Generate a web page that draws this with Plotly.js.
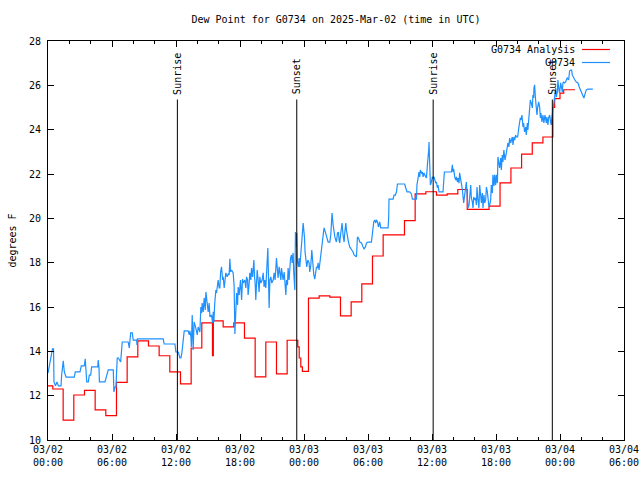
<!DOCTYPE html>
<html>
<head>
<meta charset="utf-8">
<script src="https://cdn.plot.ly/plotly-3.0.1.min.js"></script>
<style>html,body{margin:0;padding:0;background:#fff;}#chart{width:640px;height:480px;}</style>
</head>
<body>
<div id="chart"></div>
<script>
// ---- Data (hours after 2025-03-02 00:00 UTC) ----
const startDate = '2025-03-02';

const analysisHours = [0, 0.45, 1.42, 2.42, 3.42, 4.42, 5.42, 6.42, 7.42, 8.42, 9.42, 10.42, 11.42, 12.42, 13.42, 14.42, 15.42, 15.5, 16.42, 17.42, 18.42, 19.42, 20.42, 21.42, 22.42, 23.42, 23.55, 23.7, 23.85, 24.42, 25.42, 26.42, 27.42, 28.42, 29.42, 30.42, 31.42, 32.42, 33.42, 34.42, 35.42, 36.42, 37.42, 38.42, 39.3, 40.42, 41.35, 42.38, 43.4, 44.4, 45.4, 46.4, 47.33, 47.5, 48.0, 48.35, 49.4];
const analysisValues = [12.44, 12.3, 10.9, 12.03, 12.24, 11.36, 11.1, 12.6, 13.75, 14.47, 14.24, 13.8, 13.07, 12.53, 14.15, 15.28, 13.8, 15.37, 15.1, 15.28, 14.6, 12.85, 14.42, 12.98, 14.5, 14.2, 13.7, 13.3, 13.1, 16.4, 16.5, 16.45, 15.6, 16.23, 17.04, 18.3, 19.25, 19.25, 19.9, 21.1, 21.2, 21.05, 21.1, 21.3, 20.4, 20.4, 20.55, 21.6, 22.27, 22.9, 23.4, 23.67, 25.0, 25.4, 25.65, 25.8, 25.8];

const obsHours = [
 0, 0.05, 0.19, 0.35, 0.42, 0.52, 0.56, 0.70, 0.84, 0.98, 1.22, 1.28, 1.38, 1.43, 1.53, 1.69, 2.46, 2.56, 3.00, 3.12,
 3.40, 3.49, 3.56, 3.63, 3.78, 3.87, 4.00, 4.09, 4.66, 4.71, 4.78, 4.82, 5.34, 5.50, 5.65, 6.12, 6.18, 6.28, 6.37, 6.49,
 6.60, 6.81, 6.96, 7.52, 7.62, 7.75, 7.90, 7.99, 8.31, 8.34, 8.38, 10.80, 10.89, 11.90, 11.99, 12.21, 12.30, 12.37, 12.46, 12.55,
 12.67, 12.77, 13.14,
 13.24, 13.30, 13.40, 13.44, 13.52, 13.61, 13.70, 13.86, 13.99, 14.08, 14.24, 14.33, 14.40, 14.45, 14.55, 14.64, 14.74, 14.80, 14.92, 15.02,
 15.11, 15.18, 15.33, 15.43, 15.49, 15.55, 15.64, 15.74, 15.80, 15.86, 15.95, 16.05, 16.11, 16.18, 16.27, 16.37, 16.42, 16.52, 16.58, 16.67,
 16.80, 16.89, 16.98, 17.05, 17.11, 17.21, 17.36, 17.45, 17.52, 17.58, 17.68, 17.77, 17.83, 17.92, 18.05, 18.15, 18.24, 18.30, 18.45, 18.55,
 18.61, 18.71, 18.76, 18.86, 18.92, 19.02, 19.08, 19.18, 19.23, 19.30, 19.36, 19.42, 19.48, 19.55, 19.61, 19.70, 19.79, 19.86, 19.95, 20.08,
 20.17, 20.26, 20.33, 20.42, 20.49, 20.54, 20.61, 20.67, 20.73, 20.80, 20.89, 20.98, 21.11, 21.20, 21.29, 21.42, 21.48, 21.57, 21.67, 21.73,
 21.83, 21.89, 22.04, 22.14, 22.20, 22.30, 22.36, 22.45, 22.51, 22.60, 22.74, 22.83, 22.89, 22.98, 23.04, 23.14, 23.20, 23.26, 23.33, 23.39,
 23.48, 23.54, 23.61, 23.70, 23.77, 23.86, 23.92, 23.98, 24.05, 24.10, 24.20, 24.26, 24.36, 24.48, 24.54, 24.64, 24.73, 24.80, 24.85, 24.92,
 25.01, 25.08, 25.17, 25.26, 25.32, 25.41,
 25.55, 25.64, 25.73, 25.79, 25.88, 25.95, 26.04, 26.16, 26.26, 26.42, 26.51, 26.58, 26.63, 26.73, 26.79, 26.89, 26.98, 27.04, 27.14, 27.23,
 27.29, 27.35, 27.45, 27.51, 27.57, 27.66, 27.76, 27.82, 27.92, 27.98, 28.07, 28.17, 28.29, 28.38, 28.48, 28.60, 28.69, 28.82, 28.92, 29.01,
 29.11, 29.23, 29.39, 29.54, 29.63, 29.76, 29.86, 30.00, 30.32, 30.42, 30.47, 30.54, 30.63, 30.73, 30.79, 30.89, 30.98, 31.10, 31.19, 31.88,
 31.94, 31.97, 32.35, 32.44, 32.57, 32.67, 32.76, 33.44, 33.54, 33.66, 33.91, 34.07, 34.16, 34.54, 34.59, 34.69, 34.78, 34.85, 34.91, 35.01,
 35.10, 35.16, 35.25, 35.32, 35.41, 35.48, 35.57, 35.62, 35.69, 35.72, 35.78, 35.85, 35.94, 36.04, 36.09, 36.19, 36.25, 36.35, 36.41, 36.51,
 36.56, 36.66, 37.03, 37.10, 37.16, 37.82, 37.91, 37.97, 38.03, 38.13, 38.22, 38.29, 38.38, 38.44, 38.53, 38.59, 38.69, 38.75, 38.85, 38.90,
 38.97, 39.06, 39.16, 39.22, 39.28, 39.37, 39.47, 39.53, 39.63, 39.69, 39.78, 39.84, 39.91, 40.00, 40.09, 40.16, 40.22, 40.31, 40.40, 40.47,
 40.56, 40.63, 40.72, 40.78, 40.87, 40.94, 41.03, 41.10, 41.19, 41.25, 41.34,
 41.41, 41.50, 41.56, 41.66, 41.71, 41.81, 41.87, 41.97, 42.03, 42.13, 42.18, 42.25, 42.34, 42.44, 42.50, 42.59, 42.65, 42.74, 42.84, 42.97,
 43.06, 43.12, 43.21, 43.28, 43.37, 43.44, 43.53, 43.59, 43.68, 43.75, 43.84, 43.91, 44.03, 44.15, 44.22, 44.28, 44.34, 44.43, 44.53, 44.59,
 44.68, 44.78, 44.84, 44.94, 44.99, 45.09, 45.15, 45.22, 45.31, 45.41, 45.46, 45.53, 45.56, 45.62, 45.69, 45.78, 45.84, 45.90, 46.00, 46.09,
 46.16, 46.21, 46.31, 46.40, 46.49, 46.59, 46.72, 46.77, 46.87, 46.93, 47.03, 47.12, 47.18, 47.24, 47.34, 47.43, 47.52, 47.59, 47.65, 47.75,
 47.80, 47.90, 47.96, 48.06, 48.12, 48.22, 48.27, 48.34, 48.43, 48.53, 48.59, 48.68, 48.81, 48.90, 48.99, 49.09, 49.15, 49.27, 49.40, 49.53,
 49.68, 49.84, 50.00, 50.15, 50.24, 50.37, 50.46, 50.61, 51.08
];
const obsValues = [
 13.02, 13.16, 13.52, 13.97, 14.11, 14.11, 12.62, 12.44, 12.62, 12.44, 12.44, 12.93, 13.30, 13.57, 13.07, 12.84, 12.84, 13.07, 13.07, 13.34,
 13.34, 13.66, 13.16, 12.62, 12.62, 12.93, 12.93, 13.30, 13.30, 13.61, 13.25, 12.62, 12.62, 12.89, 13.16, 13.16, 12.17, 12.39, 12.39, 13.70,
 13.70, 13.52, 14.42, 14.42, 14.15, 14.83, 14.83, 14.51, 14.51, 14.29, 14.56, 14.56, 14.33, 14.33, 13.97, 13.97, 13.84, 13.70, 13.70, 13.93,
 14.47, 14.92, 14.92,
 14.74, 14.92, 14.65, 14.20, 15.64, 14.06, 15.33, 15.05, 14.74, 15.10, 14.87, 16.00, 15.73, 16.18, 15.78, 16.41, 15.87, 16.68, 16.09, 15.78,
 16.18, 15.55, 15.64, 15.28, 15.78, 15.33, 16.23, 16.77, 16.63, 16.90, 17.22, 16.86, 16.86, 17.58, 17.81, 17.22, 17.36, 16.86, 17.31, 17.54,
 17.36, 17.49, 17.45, 18.17, 17.58, 17.67, 17.54, 16.95, 14.78, 15.87, 16.63, 16.09, 16.90, 16.54, 17.22, 16.32, 17.26, 17.08, 17.22, 16.86,
 17.36, 17.22, 16.54, 17.08, 17.54, 17.22, 17.76, 17.36, 17.76, 18.12, 17.36, 17.08, 16.32, 17.36, 17.67, 17.22, 16.68, 17.36, 17.08, 17.22,
 17.54, 16.90, 17.22, 16.86, 17.36, 18.12, 18.66, 17.36, 15.96, 17.22, 17.36, 17.08, 17.22, 17.54, 17.22, 18.21, 17.67, 17.31, 17.81, 17.58,
 17.22, 17.76, 17.22, 17.58, 17.08, 16.54, 17.22, 16.99, 17.76, 17.22, 18.21, 18.35, 17.99, 18.44, 17.54, 16.77, 19.38, 18.71, 19.34, 18.03,
 17.81, 18.21, 17.81, 18.35, 19.02, 19.47, 19.79, 19.47, 19.11, 18.48, 18.12, 17.81, 18.12, 17.99, 17.58, 17.90, 18.57, 18.12, 17.90, 17.45,
 17.26, 17.58, 17.81, 17.76, 17.99, 17.67,
 18.21, 18.44, 18.89, 19.25, 19.57, 19.47, 19.25, 19.11, 18.93, 18.93, 19.25, 19.79, 20.24, 19.70, 19.38, 19.16, 19.02, 18.93, 19.34, 19.38,
 19.02, 18.89, 19.34, 19.70, 19.79, 19.25, 18.93, 19.34, 19.79, 19.47, 19.16, 18.93, 18.71, 18.66, 18.57, 18.48, 18.35, 18.30, 18.26, 19.16,
 19.11, 18.93, 18.89, 18.71, 18.62, 18.71, 18.89, 18.93, 18.93, 19.34, 19.70, 19.84, 19.93, 19.79, 19.93, 19.84, 19.61, 19.84, 19.57, 19.57,
 20.02, 20.87, 20.87, 21.05, 21.05, 21.19, 21.55, 21.55, 21.37, 21.19, 21.19, 21.10, 20.87, 20.87, 21.50, 21.87, 22.09, 21.87, 22.18, 22.05,
 22.09, 21.87, 22.05, 21.96, 21.87, 21.82, 22.41, 22.63, 23.08, 23.44, 22.50, 21.50, 21.64, 21.87, 21.82, 21.87, 21.73, 21.59, 21.64, 21.37,
 21.50, 21.19, 21.19, 21.64, 22.09, 22.09, 22.41, 22.09, 22.23, 21.87, 21.73, 21.87, 21.64, 21.82, 21.59, 22.05, 21.64, 21.59, 21.28, 20.96,
 20.69, 21.05, 21.37, 21.64, 21.19, 20.47, 20.60, 21.14, 21.50, 20.92, 20.74, 20.47, 20.96, 20.83, 20.92, 20.60, 21.41, 20.83, 20.47, 21.50,
 20.96, 20.69, 21.14, 20.47, 21.05, 20.69, 20.83, 21.41, 21.19, 20.74, 20.51,
 20.60, 20.83, 21.50, 21.14, 21.96, 21.46, 21.96, 21.50, 21.96, 21.59, 22.77, 22.50, 22.27, 22.72, 22.18, 22.86, 22.54, 23.08, 22.63, 22.95,
 23.22, 23.40, 23.22, 23.62, 23.40, 23.53, 23.67, 23.31, 23.67, 23.53, 23.76, 23.67, 23.67, 24.12, 24.35, 24.53, 24.44, 24.66, 24.12, 24.30,
 23.90, 24.12, 23.76, 24.30, 23.99, 24.57, 24.75, 25.34, 25.20, 24.98, 25.56, 25.43, 25.88, 26.02, 25.47, 25.02, 24.66, 24.98, 25.25, 25.02,
 24.53, 24.75, 24.35, 24.66, 24.30, 24.66, 24.30, 24.57, 24.21, 24.53, 24.66, 24.35, 24.21, 24.53, 25.02, 25.34, 25.56, 25.88, 25.47, 25.70,
 26.24, 25.79, 25.65, 26.11, 25.93, 25.70, 26.11, 26.15, 26.11, 26.15, 26.24, 26.33, 26.24, 26.65, 26.69, 26.69, 26.47, 26.33, 26.24, 26.15,
 26.11, 25.88, 25.70, 25.56, 25.43, 25.65, 25.79, 25.83, 25.83
];

const sunHours = [12.13, 23.32, 36.11, 47.28];
const sunLabels = ['Sunrise', 'Sunset', 'Sunrise', 'Sunset'];

const tickHours = [0, 6, 12, 18, 24, 30, 36, 42, 48, 54];
const tickDates = ['03/02', '03/02', '03/02', '03/02', '03/03', '03/03', '03/03', '03/03', '03/04', '03/04'];
const tickTimes = ['00:00', '06:00', '12:00', '18:00', '00:00', '06:00', '12:00', '18:00', '00:00', '06:00'];

const seriesNames = ['G0734 Analysis', 'G0734'];
const seriesColors = ['#ff0000', '#1e90ff'];

// ---- helpers ----
const base = Date.parse(startDate + 'T00:00:00Z');
function toDate(h) {
  return new Date(base + Math.round(h * 3600000)).toISOString().slice(0, 19).replace('T', ' ');
}

const FONT = 'DejaVu Sans Mono, monospace';
const L = 48, R = 624, T = 41, B = 440, W = 640, H = 480;
const px2paperX = p => (p - L) / (R - L);
const px2paperY = p => (B - p) / (B - T);

const traces = [
  {
    x: analysisHours.map(toDate), y: analysisValues, type: 'scatter', mode: 'lines',
    line: {color: seriesColors[0], width: 1.2, shape: 'hv'}, name: seriesNames[0], hoverinfo: 'x+y'
  },
  {
    x: obsHours.map(toDate), y: obsValues, type: 'scatter', mode: 'lines',
    line: {color: seriesColors[1], width: 1.2}, name: seriesNames[1], hoverinfo: 'x+y'
  }
];

const sunTop = px2paperY(99.5);
const shapes = sunHours.map(h => ({
  type: 'line', xref: 'x', yref: 'paper', x0: toDate(h), x1: toDate(h), y0: 0, y1: sunTop,
  line: {color: '#000', width: 1}
}));
const annotations = sunHours.map((h, i) => ({
  xref: 'x', yref: 'paper', x: toDate(h), y: sunTop, yshift: 3, text: sunLabels[i],
  textangle: -90, showarrow: false, xanchor: 'center', yanchor: 'bottom',
  font: {family: FONT, size: 10, color: '#000'}
}));

// legend (gnuplot style: text then sample)
const legendRows = [49.5, 62.5];
seriesNames.forEach((n, i) => {
  annotations.push({
    xref: 'paper', yref: 'paper', x: px2paperX(577), y: px2paperY(legendRows[i]),
    text: n, showarrow: false, xanchor: 'right', yanchor: 'middle',
    font: {family: FONT, size: 10, color: '#000'}
  });
  shapes.push({
    type: 'line', xref: 'paper', yref: 'paper', x0: px2paperX(582), x1: px2paperX(610),
    y0: px2paperY(legendRows[i]), y1: px2paperY(legendRows[i]),
    line: {color: seriesColors[i], width: 1.2}
  });
});

const layout = {
  width: W, height: H,
  margin: {l: L, r: W - R, t: T, b: H - B, pad: 0},
  paper_bgcolor: '#fff', plot_bgcolor: '#fff',
  showlegend: false,
  font: {family: FONT, size: 10, color: '#000'},
  title: {
    text: 'Dew Point for G0734 on 2025-Mar-02 (time in UTC)',
    font: {family: FONT, size: 10, color: '#000'},
    x: 0.5, xref: 'paper', y: 1 - 19 / H, yref: 'container', yanchor: 'middle'
  },
  xaxis: {
    type: 'date', range: [toDate(0), toDate(54)],
    tickmode: 'array', tickvals: tickHours.map(toDate),
    ticktext: tickHours.map((h, i) => tickDates[i] + '<br>' + tickTimes[i]),
    ticks: 'inside', ticklen: 6, tickcolor: '#000', tickwidth: 1,
    minor: {ticks: 'inside', ticklen: 3, tickcolor: '#000', dtick: 7200000, tick0: toDate(0), showgrid: false},
    showline: true, linecolor: '#000', linewidth: 1, mirror: 'allticks',
    showgrid: false, zeroline: false,
    tickfont: {family: FONT, size: 10, color: '#000'}
  },
  yaxis: {
    range: [10, 28], tickmode: 'linear', tick0: 10, dtick: 2,
    ticks: 'inside', ticklen: 6, tickcolor: '#000', tickwidth: 1,
    showline: true, linecolor: '#000', linewidth: 1, mirror: 'allticks',
    showgrid: false, zeroline: false,
    tickfont: {family: FONT, size: 10, color: '#000'},
    ticklabelstandoff: 4,
    title: {text: 'degrees F', font: {family: FONT, size: 10, color: '#000'}, standoff: 10}
  },
  shapes: shapes,
  annotations: annotations
};

Plotly.newPlot('chart', traces, layout, {staticPlot: true, displayModeBar: false});
</script>
</body>
</html>
